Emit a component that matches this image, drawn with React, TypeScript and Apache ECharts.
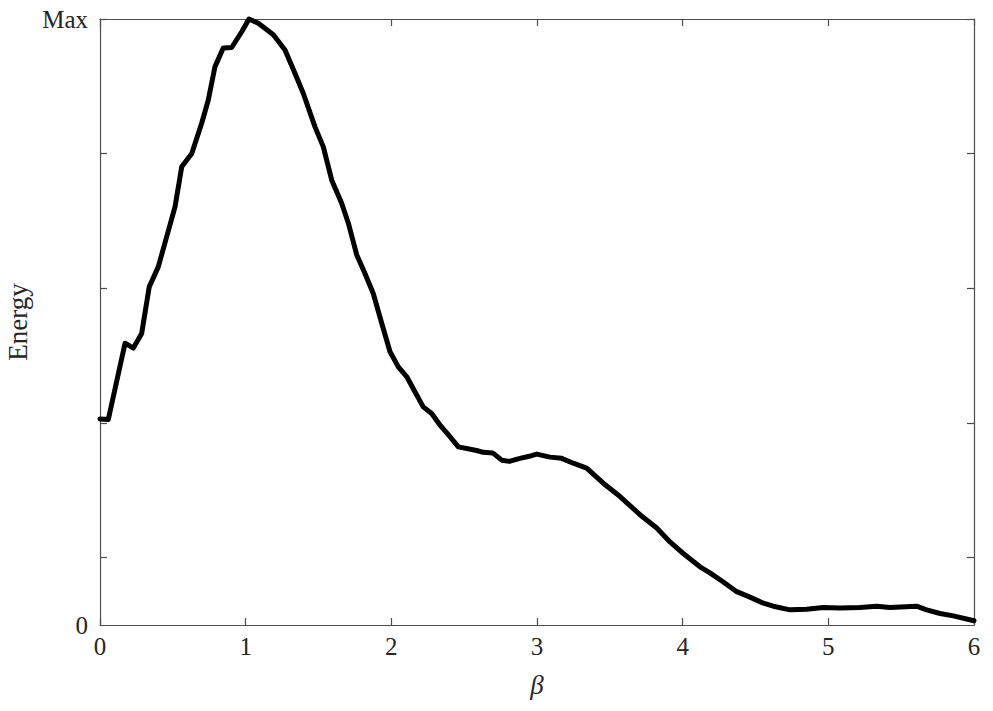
import React, { useEffect, useRef } from "react";
import * as echarts from "echarts";

// beta values (x) and normalised energy (fraction of Max)
const beta = [
  0.0, 0.057, 0.172, 0.229, 0.286, 0.338, 0.4, 0.458, 0.515, 0.561, 0.63, 0.698,
  0.743, 0.789, 0.846, 0.904, 0.973, 1.023, 1.087, 1.19, 1.27, 1.339, 1.396, 1.476,
  1.533, 1.591, 1.659, 1.705, 1.762, 1.819, 1.876, 1.934, 1.991, 2.048, 2.105, 2.162,
  2.219, 2.277, 2.334, 2.391, 2.46, 2.586, 2.631, 2.696, 2.758, 2.81, 2.883, 2.94,
  2.998, 3.089, 3.169, 3.249, 3.341, 3.455, 3.57, 3.707, 3.822, 3.913, 4.004, 4.119,
  4.187, 4.279, 4.371, 4.462, 4.554, 4.622, 4.737, 4.851, 4.965, 5.08, 5.217, 5.332,
  5.423, 5.606, 5.675, 5.767, 5.858, 6.0,
];
const energy = [
  0.34, 0.339, 0.465, 0.457, 0.481, 0.558, 0.591, 0.641, 0.69, 0.756, 0.778, 0.828,
  0.866, 0.921, 0.952, 0.953, 0.979, 1.0, 0.993, 0.974, 0.949, 0.91, 0.877, 0.822,
  0.789, 0.734, 0.696, 0.663, 0.611, 0.58, 0.547, 0.498, 0.451, 0.426, 0.41, 0.385,
  0.36, 0.349, 0.33, 0.314, 0.294, 0.288, 0.285, 0.284, 0.272, 0.27, 0.275, 0.278,
  0.282, 0.277, 0.275, 0.267, 0.259, 0.234, 0.212, 0.182, 0.16, 0.137, 0.118, 0.096,
  0.086, 0.071, 0.055, 0.046, 0.036, 0.031, 0.025, 0.026, 0.029, 0.028, 0.029, 0.031,
  0.029, 0.031, 0.025, 0.019, 0.015, 0.007,
];
const yTickValues = [1 / 9, 3 / 9, 5 / 9, 7 / 9, 1];
const yLabelValues = [0, 1];
const yLabelTexts = ["0", "Max"];

const FONT = "'Times New Roman', 'Liberation Serif', serif";
const AXIS_COLOR = "#4d4d4d";
const TEXT_COLOR = "#262626";

export default function App() {
  const ref = useRef<HTMLDivElement>(null);
  useEffect(() => {
    if (!ref.current) return;
    const chart = echarts.init(ref.current, undefined, { renderer: "svg" });
    const axisLine = { show: true, onZero: false, lineStyle: { color: AXIS_COLOR, width: 1.2 } };
    const tickStyle = { color: AXIS_COLOR, width: 1.2 };
    chart.setOption({
      animation: false,
      backgroundColor: "#ffffff",
      grid: { left: 100, right: 19, top: 19, bottom: 86, containLabel: false, outerBoundsMode: "none" },
      xAxis: [
        {
          type: "value",
          position: "bottom",
          min: 0,
          max: 6,
          interval: 1,
          axisLine,
          axisTick: { show: true, inside: true, length: 7, lineStyle: tickStyle },
          axisLabel: { fontFamily: FONT, fontSize: 25, color: TEXT_COLOR, margin: 9 },
          splitLine: { show: false },
          name: "β",
          nameLocation: "middle",
          nameGap: 46,
          nameTextStyle: { fontFamily: FONT, fontSize: 27, fontStyle: "italic", color: TEXT_COLOR },
        },
        {
          type: "value",
          position: "top",
          min: 0,
          max: 6,
          interval: 1,
          axisLine,
          axisTick: { show: true, inside: true, length: 7, lineStyle: tickStyle },
          axisLabel: { show: false },
          splitLine: { show: false },
        },
      ],
      yAxis: [
        {
          type: "value",
          position: "left",
          min: 0,
          max: 1,
          axisLine,
          axisTick: {
            show: true,
            inside: true,
            length: 7,
            customValues: yTickValues,
            lineStyle: tickStyle,
          },
          axisLabel: {
            customValues: yLabelValues,
            formatter: (v: number) => yLabelTexts[yLabelValues.indexOf(v)] ?? "",
            fontFamily: FONT,
            fontSize: 25,
            color: TEXT_COLOR,
            margin: 12,
          },
          splitLine: { show: false },
          name: "Energy",
          nameLocation: "middle",
          nameGap: 64,
          nameTextStyle: { fontFamily: FONT, fontSize: 27, color: TEXT_COLOR },
        },
        {
          type: "value",
          position: "right",
          min: 0,
          max: 1,
          axisLine,
          axisTick: {
            show: true,
            inside: true,
            length: 7,
            customValues: yTickValues,
            lineStyle: tickStyle,
          },
          axisLabel: { show: false },
          splitLine: { show: false },
        },
      ],
      series: [
        {
          type: "line",
          xAxisIndex: 0,
          yAxisIndex: 0,
          data: beta.map((b, i) => [b, energy[i]]),
          showSymbol: false,
          symbol: "none",
          lineStyle: { color: "#000000", width: 5, join: "round", cap: "round" },
          clip: false,
        },
      ],
    });
    return () => chart.dispose();
  }, []);
  return (
    <div
      ref={ref}
      style={{ position: "fixed", left: 0, top: 0, width: 993, height: 711, background: "#fff" }}
    />
  );
}
